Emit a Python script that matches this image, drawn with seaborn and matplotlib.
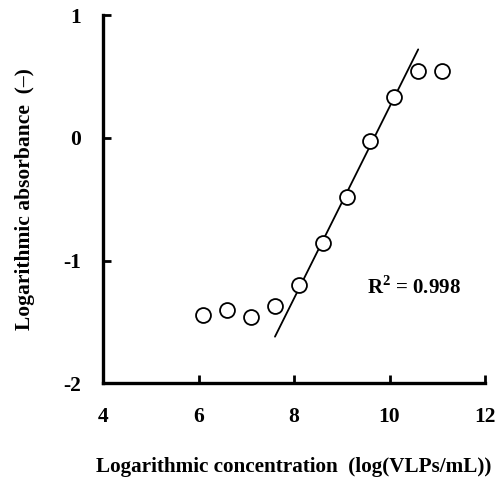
import pandas as pd
import seaborn as sns
import matplotlib.pyplot as plt

# datos
log_conc = [6.1, 6.6, 7.1, 7.6, 8.1, 8.6, 9.1, 9.6, 10.1, 10.6, 11.1]
log_abs = [-1.44, -1.40, -1.46, -1.37, -1.20, -0.86, -0.48, -0.03, 0.33, 0.54, 0.54]

# recta de ajuste (extremos leídos)
fit_x = [7.6, 10.6]
fit_y = [-1.62, 0.72]

x_ticks = [4, 6, 8, 10, 12]
y_ticks = [-2, -1, 0, 1]

sns.set_style("ticks", {'text.color': 'black', 'axes.labelcolor': 'black',
                        'xtick.color': 'black', 'ytick.color': 'black',
                        'axes.edgecolor': 'black'})
plt.rcParams['font.family'] = ['Liberation Serif', 'DejaVu Serif']
plt.rcParams['font.weight'] = 'bold'
plt.rcParams['axes.unicode_minus'] = False
plt.rcParams['mathtext.fontset'] = 'custom'
plt.rcParams['mathtext.rm'] = 'Liberation Serif:bold'
plt.rcParams['mathtext.bf'] = 'Liberation Serif:bold'

df = pd.DataFrame({'x': log_conc, 'y': log_abs})
df_fit = pd.DataFrame({'x': fit_x, 'y': fit_y})

fig = plt.figure(figsize=(4.98, 4.84), dpi=100)
ax = fig.add_axes([0.207, 0.208, 0.767, 0.761])

sns.lineplot(data=df_fit, x='x', y='y', color='black', linewidth=1.3, ax=ax)
sns.scatterplot(data=df, x='x', y='y', s=115, facecolor='white',
                edgecolor='black', linewidth=1.3, zorder=3, ax=ax)

ax.text(10.52, -1.22, r'R$^{\mathbf{2}}$ = 0.998', ha='center', va='center',
        fontsize=15, fontweight='bold')

ax.set_xlim(4, 12)
ax.set_ylim(-2, 1)
ax.set_xticks(x_ticks)
ax.set_yticks(y_ticks)
ax.tick_params(direction='in', length=6, width=2, labelsize=15.5)
ax.tick_params(axis='y', pad=16)
ax.tick_params(axis='x', pad=17)
for lbl in ax.get_xticklabels() + ax.get_yticklabels():
    lbl.set_fontweight('bold')

sns.despine(ax=ax)
for s in ['left', 'bottom']:
    ax.spines[s].set_linewidth(2.4)

ax.set_xlabel('Logarithmic concentration  (log(VLPs/mL))', fontsize=15.2,
              fontweight='bold', labelpad=22)
ax.set_ylabel('Logarithmic absorbance  (–)', fontsize=15.5,
              fontweight='bold', labelpad=20)

plt.savefig('out.png', dpi=100)
